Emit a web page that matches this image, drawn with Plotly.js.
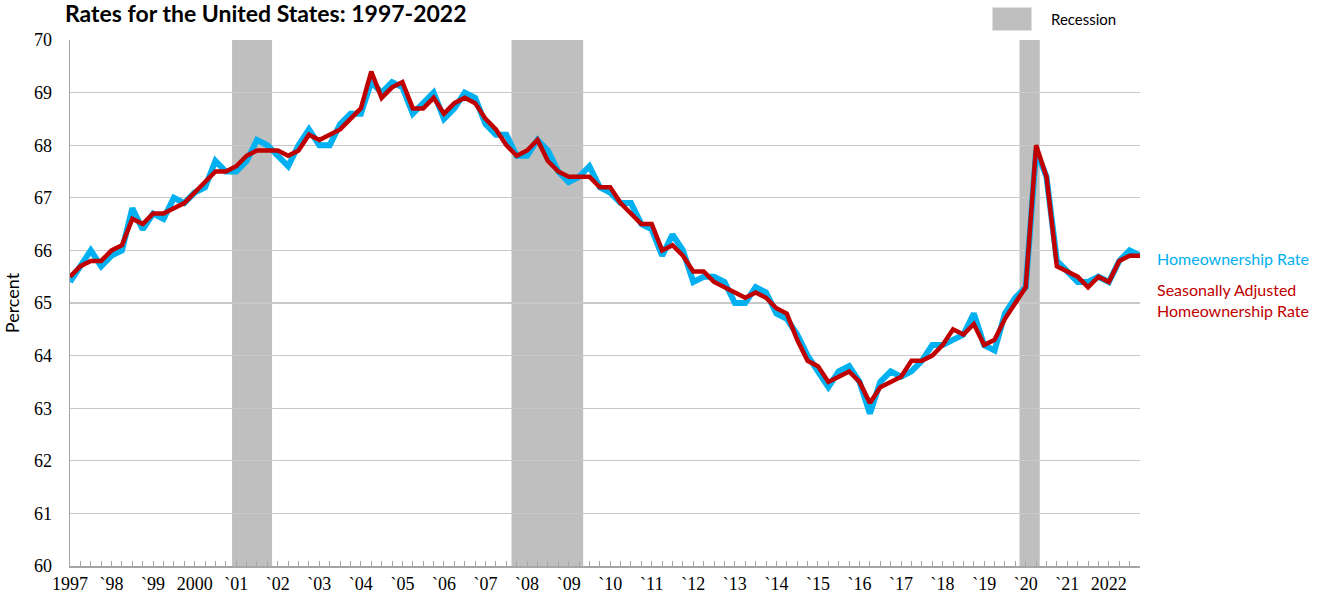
<!DOCTYPE html>
<html>
<head>
<meta charset="utf-8">
<script src="https://cdn.plot.ly/plotly-3.0.1.min.js"></script>
<style>html,body{margin:0;padding:0;background:#fff;}#chart{width:1324px;height:594px;}</style>
</head>
<body>
<div id="chart"></div>
<script>
// Quarterly data, 1997 Q1 through 2022 Q4 (4 values per row = one year)
var years = ["1997","1998","1999","2000","2001","2002","2003","2004","2005","2006","2007","2008","2009",
             "2010","2011","2012","2013","2014","2015","2016","2017","2018","2019","2020","2021","2022"];

var homeownershipRate = [
  65.4, 65.7, 66.0, 65.7,
  65.9, 66.0, 66.8, 66.4,
  66.7, 66.6, 67.0, 66.9,
  67.1, 67.2, 67.7, 67.5,
  67.5, 67.7, 68.1, 68.0,
  67.8, 67.6, 68.0, 68.3,
  68.0, 68.0, 68.4, 68.6,
  68.6, 69.2, 69.0, 69.2,
  69.1, 68.6, 68.8, 69.0,
  68.5, 68.7, 69.0, 68.9,
  68.4, 68.2, 68.2, 67.8,
  67.8, 68.1, 67.9, 67.5,
  67.3, 67.4, 67.6, 67.2,
  67.1, 66.9, 66.9, 66.5,
  66.4, 65.9, 66.3, 66.0,
  65.4, 65.5, 65.5, 65.4,
  65.0, 65.0, 65.3, 65.2,
  64.8, 64.7, 64.4, 64.0,
  63.7, 63.4, 63.7, 63.8,
  63.5, 62.9, 63.5, 63.7,
  63.6, 63.7, 63.9, 64.2,
  64.2, 64.3, 64.4, 64.8,
  64.2, 64.1, 64.8, 65.1,
  65.3, 67.9, 67.4, 65.8,
  65.6, 65.4, 65.4, 65.5,
  65.4, 65.8, 66.0, 65.9
];

var seasonallyAdjustedRate = [
  65.5, 65.7, 65.8, 65.8,
  66.0, 66.1, 66.6, 66.5,
  66.7, 66.7, 66.8, 66.9,
  67.1, 67.3, 67.5, 67.5,
  67.6, 67.8, 67.9, 67.9,
  67.9, 67.8, 67.9, 68.2,
  68.1, 68.2, 68.3, 68.5,
  68.7, 69.4, 68.9, 69.1,
  69.2, 68.7, 68.7, 68.9,
  68.6, 68.8, 68.9, 68.8,
  68.5, 68.3, 68.0, 67.8,
  67.9, 68.1, 67.7, 67.5,
  67.4, 67.4, 67.4, 67.2,
  67.2, 66.9, 66.7, 66.5,
  66.5, 66.0, 66.1, 65.9,
  65.6, 65.6, 65.4, 65.3,
  65.2, 65.1, 65.2, 65.1,
  64.9, 64.8, 64.3, 63.9,
  63.8, 63.5, 63.6, 63.7,
  63.5, 63.1, 63.4, 63.5,
  63.6, 63.9, 63.9, 64.0,
  64.2, 64.5, 64.4, 64.6,
  64.2, 64.3, 64.7, 65.0,
  65.3, 68.0, 67.4, 65.7,
  65.6, 65.5, 65.3, 65.5,
  65.4, 65.8, 65.9, 65.9
];

var yearTickLabels = ["1997","`98","`99","2000","`01","`02","`03","`04","`05","`06","`07","`08","`09",
                      "`10","`11","`12","`13","`14","`15","`16","`17","`18","`19","`20","`21","2022"];

// Recession periods, in quarter positions counted from 1997 Q1
var recessionStart = [15.6, 42.5, 91.4];
var recessionEnd   = [19.45, 49.4, 93.35];

var quarterIndex = homeownershipRate.map(function (v, i) { return i; });
var yearTickPositions = years.map(function (y, i) { return i * 4; });

var shapes = recessionStart.map(function (s, i) {
  return {
    type: 'rect', xref: 'x', yref: 'paper', x0: s, x1: recessionEnd[i], y0: 0, y1: 1,
    fillcolor: '#BFBFBF', line: {width: 0}, layer: 'between'
  };
});
// legend swatch for recession
shapes.push({
  type: 'rect', xref: 'paper', yref: 'paper',
  x0: (992.5 - 70) / 1070, x1: (1031.5 - 70) / 1070,
  y0: (566 - 30.5) / 526, y1: (566 - 7.5) / 526,
  fillcolor: '#BFBFBF', line: {width: 0}, layer: 'above'
});

var traces = [
  {
    x: quarterIndex, y: homeownershipRate, type: 'scatter', mode: 'lines',
    name: 'Homeownership Rate', line: {color: '#00B0F0', width: 6, shape: 'linear'},
    hoverinfo: 'y'
  },
  {
    x: quarterIndex, y: seasonallyAdjustedRate, type: 'scatter', mode: 'lines',
    name: 'Seasonally Adjusted Homeownership Rate', line: {color: '#C00000', width: 4.5, shape: 'linear'},
    hoverinfo: 'y'
  }
];

var sans = 'Lato, "Open Sans", "Liberation Sans", sans-serif';
var serif = '"Liberation Serif", "DejaVu Serif", serif';

var layout = {
  width: 1324, height: 594,
  margin: {l: 70, r: 184, t: 40, b: 28, pad: 0},
  paper_bgcolor: '#ffffff', plot_bgcolor: '#ffffff',
  showlegend: false,
  title: {
    text: '<b>Rates for the United States: 1997-2022</b>',
    xref: 'container', yref: 'container', x: 65 / 1324, xanchor: 'left',
    y: 1 - 14 / 594, yanchor: 'middle',
    font: {family: sans, size: 23, color: '#000000'}
  },
  xaxis: {
    range: [0, 103], showgrid: false, zeroline: false,
    tickmode: 'array', tickvals: yearTickPositions, ticktext: yearTickLabels,
    ticks: 'inside', ticklen: 5, tickwidth: 1, tickcolor: '#A6A6A6',
    minor: {dtick: 1, tick0: 0, ticks: 'inside', ticklen: 5, tickwidth: 1, tickcolor: '#A6A6A6', showgrid: false},
    showline: true, linecolor: '#A6A6A6', linewidth: 1.5,
    tickfont: {family: serif, size: 18, color: '#000000'},
    ticklabelstandoff: 1, fixedrange: true
  },
  yaxis: {
    range: [60, 70], dtick: 1, tick0: 60,
    showgrid: true, gridcolor: '#C8C8C8', gridwidth: 1.3,
    zeroline: false, showline: true, linecolor: '#A6A6A6', linewidth: 1.5,
    ticks: '', tickfont: {family: serif, size: 18, color: '#000000'},
    ticklabelstandoff: 13,
    title: {text: 'Percent', font: {family: sans, size: 18, color: '#000000'}, standoff: 9},
    fixedrange: true
  },
  shapes: shapes,
  annotations: [
    {xref: 'paper', yref: 'paper', x: (1049 - 70) / 1070, y: (566 - 19) / 526, xanchor: 'left', yanchor: 'middle',
     text: 'Recession', showarrow: false, font: {family: sans, size: 15, color: '#000000'}},
    {xref: 'paper', yref: 'paper', x: (1155 - 70) / 1070, y: (566 - 258) / 526, xanchor: 'left', yanchor: 'middle',
     text: 'Homeownership Rate', showarrow: false, font: {family: sans, size: 16, color: '#00B0F0'}},
    {xref: 'paper', yref: 'paper', x: (1155 - 70) / 1070, y: (566 - 300) / 526, xanchor: 'left', yanchor: 'middle',
     text: 'Seasonally Adjusted<br>Homeownership Rate', align: 'left', showarrow: false,
     font: {family: sans, size: 16, color: '#C00000'}}
  ]
};

Plotly.newPlot('chart', traces, layout, {displayModeBar: false, staticPlot: true});
</script>
</body>
</html>
